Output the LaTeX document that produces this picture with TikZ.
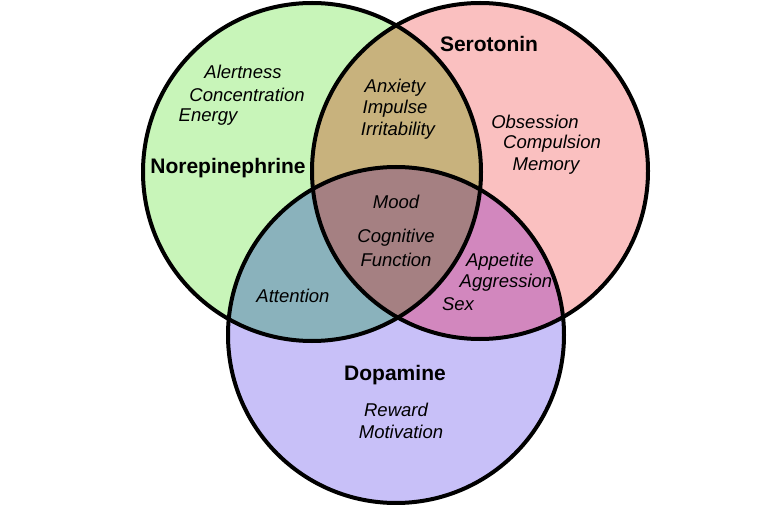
\documentclass[tikz,border=0pt]{standalone}
\usepackage{fontspec}
\setmainfont{Liberation Sans}
\begin{document}
\begin{tikzpicture}[x=1pt,y=-1pt,
  lab/.style={font=\fontsize{18.5}{18.5}\selectfont\itshape,inner sep=0pt},
  big/.style={font=\fontsize{21}{21}\selectfont\bfseries,inner sep=0pt},
  ring/.style={draw=black,line width=4pt}]
\useasboundingbox[fill=white] (0,0) rectangle (774,505);
\def\cL{(312,172) circle (169)}
\def\cR{(480,171) circle (168)}
\def\cB{(396,335) circle (168)}
\fill[fill={rgb,255:red,200;green,245;blue,185}] \cL;
\fill[fill={rgb,255:red,250;green,192;blue,192}] \cR;
\fill[fill={rgb,255:red,200;green,192;blue,248}] \cB;
\begin{scope}\clip \cL; \fill[fill={rgb,255:red,200;green,178;blue,125}] \cR; \end{scope}
\begin{scope}\clip \cL; \fill[fill={rgb,255:red,138;green,178;blue,188}] \cB; \end{scope}
\begin{scope}\clip \cR; \fill[fill={rgb,255:red,210;green,135;blue,190}] \cB; \end{scope}
\begin{scope}\clip \cL; \clip \cR; \fill[fill={rgb,255:red,165;green,128;blue,130}] \cB; \end{scope}
\draw[ring] \cL; \draw[ring] \cR; \draw[ring] \cB;
\node[lab] (a1) at (243,72) {Alertness};
\node[lab] (a2) at (247,95) {Concentration};
\node[lab] (a3) at (208,117) {Energy};
\node[big] (ne) at (228,168) {Norepinephrine};
\node[big] (se) at (489,44) {Serotonin};
\node[lab] (b1) at (395,88) {Anxiety};
\node[lab] (b2) at (395,109) {Impulse};
\node[lab] (b3) at (398,131) {Irritability};
\node[lab] (c1) at (535,122) {Obsession};
\node[lab] (c2) at (552,144) {Compulsion};
\node[lab] (c3) at (546,166) {Memory};
\node[lab] (d1) at (396,202) {Mood};
\node[lab] (d2) at (396,238) {Cognitive};
\node[lab] (d3) at (396,260) {Function};
\node[lab] (e1) at (500,262) {Appetite};
\node[lab] (e2) at (506,283) {Aggression};
\node[lab] (e3) at (458,304) {Sex};
\node[lab] (f1) at (293,296) {Attention};
\node[big] (da) at (395,375) {Dopamine};
\node[lab] (g1) at (396,410) {Reward};
\node[lab] (g2) at (401,432) {Motivation};
\end{tikzpicture}
\end{document}
